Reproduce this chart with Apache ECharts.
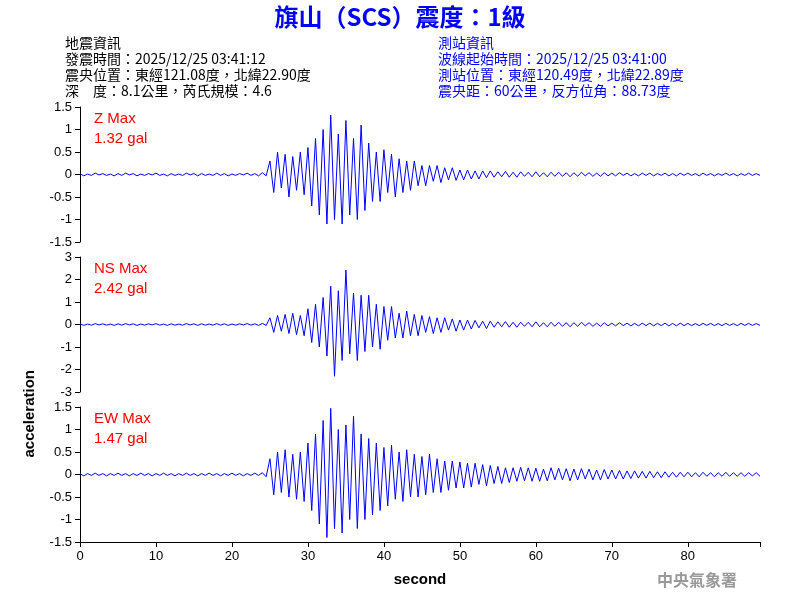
<!DOCTYPE html>
<html><head><meta charset="utf-8">
<script src="https://cdn.jsdelivr.net/npm/echarts@6/dist/echarts.min.js"></script>
<style>html,body{margin:0;padding:0;background:#fff}#c{width:800px;height:600px}</style>
</head><body><div id="c"></div>
<script>
const step = 0.5;
const zTicks = [-1.5,-1,-0.5,0,0.5,1,1.5];
const nsTicks = [-3,-2,-1,0,1,2,3];
const zVals = [
0.02,-0.03,0.01,-0.02,0.03,-0.01,0.02,-0.02,0.01,-0.03,
0.02,-0.02,0.03,-0.01,0.02,-0.03,0.01,-0.02,0.02,-0.01,
0.03,-0.02,0.01,-0.03,0.02,-0.02,0.01,-0.02,0.03,-0.01,
0.02,-0.03,0.02,-0.02,0.01,-0.02,0.03,-0.02,0.02,-0.03,
0.01,-0.02,0.02,-0.01,0.03,-0.02,0.02,-0.03,0.04,-0.03,
0.3,-0.4,0.5,-0.3,0.45,-0.5,0.4,-0.35,0.5,-0.45,
0.6,-0.7,0.8,-0.9,1.0,-1.1,1.32,-1.0,0.9,-1.1,1.2,-0.9,0.8,-1.0,1.1,-0.8,
0.7,-0.6,0.5,-0.6,0.55,-0.4,0.45,-0.5,0.35,-0.4,0.3,-0.35,0.3,-0.25,
0.2,-0.25,0.2,-0.15,0.2,-0.18,0.15,-0.12,0.15,-0.13,0.1,-0.12,0.1,-0.1,0.08,-0.1,0.08,-0.07,0.08,-0.06,
0.06,-0.05,0.07,-0.06,0.05,-0.06,0.06,-0.04,0.05,-0.05,0.06,-0.05,0.04,-0.05,0.05,
-0.04,0.05,-0.04,0.04,-0.05,0.04,-0.04,0.05,-0.03,0.04,-0.04,0.03,-0.04,0.04,-0.03,
0.03,-0.03,0.04,-0.02,0.03,-0.03,0.02,-0.03,0.03,-0.02,0.03,-0.03,0.02,-0.02,0.03,-0.03,0.02,-0.03,0.03,-0.02,
0.03,-0.02,0.02,-0.03,0.03,-0.02,0.02,-0.03,0.02,-0.02,0.03,-0.02,0.02,-0.03,0.02,-0.02,0.03,-0.02,0.02,-0.02
];
const nsVals = [
0.03,-0.04,0.02,-0.03,0.04,-0.02,0.03,-0.03,0.02,-0.04,
0.03,-0.03,0.04,-0.02,0.03,-0.04,0.02,-0.03,0.03,-0.02,
0.04,-0.03,0.02,-0.04,0.03,-0.03,0.02,-0.03,0.04,-0.02,
0.03,-0.04,0.03,-0.03,0.02,-0.03,0.04,-0.03,0.03,-0.04,
0.02,-0.03,0.03,-0.02,0.04,-0.03,0.03,-0.04,0.05,-0.04,
0.3,-0.35,0.4,-0.3,0.45,-0.4,0.5,-0.45,0.4,-0.5,
0.7,-0.8,0.9,-1.0,1.2,-1.4,1.7,-2.3,1.5,-1.6,2.42,-1.3,1.4,-1.6,1.3,-1.2,
1.3,-1.0,0.9,-1.1,0.8,-0.7,0.8,-0.6,0.5,-0.6,0.6,-0.5,0.45,-0.5,
0.4,-0.35,0.35,-0.4,0.3,-0.35,0.3,-0.25,0.25,-0.3,0.2,-0.25,0.2,-0.2,0.18,-0.15,0.15,-0.18,0.15,-0.12,
0.12,-0.1,0.13,-0.12,0.1,-0.12,0.1,-0.08,0.1,-0.1,0.12,-0.1,0.08,-0.1,0.1,
-0.08,0.1,-0.08,0.08,-0.1,0.08,-0.08,0.1,-0.06,0.08,-0.08,0.06,-0.08,0.08,-0.06,
0.06,-0.06,0.08,-0.05,0.06,-0.06,0.05,-0.06,0.06,-0.05,0.06,-0.06,0.05,-0.05,0.06,-0.06,0.05,-0.06,0.06,-0.05,
0.05,-0.05,0.04,-0.05,0.05,-0.04,0.05,-0.05,0.04,-0.05,0.05,-0.04,0.04,-0.05,0.05,-0.04,0.05,-0.04,0.04,-0.04
];
const ewVals = [
0.02,-0.03,0.02,-0.02,0.03,-0.02,0.02,-0.03,0.02,-0.02,
0.03,-0.02,0.02,-0.03,0.02,-0.02,0.03,-0.02,0.02,-0.03,
0.02,-0.02,0.03,-0.02,0.02,-0.03,0.02,-0.02,0.03,-0.02,
0.02,-0.03,0.02,-0.02,0.03,-0.02,0.02,-0.03,0.02,-0.02,
0.03,-0.02,0.02,-0.03,0.02,-0.02,0.03,-0.02,0.04,-0.05,
0.35,-0.45,0.5,-0.4,0.55,-0.5,0.45,-0.55,0.5,-0.6,
0.7,-0.8,0.9,-1.1,1.2,-1.4,1.47,-1.2,1.0,-1.3,1.1,-1.0,1.3,-1.2,0.9,-1.0,
0.8,-0.9,0.7,-0.8,0.6,-0.7,0.65,-0.55,0.5,-0.6,0.55,-0.5,0.45,-0.5,
0.4,-0.45,0.45,-0.4,0.35,-0.4,0.3,-0.35,0.3,-0.3,0.28,-0.3,0.25,-0.28,0.25,-0.22,0.22,-0.25,0.2,-0.2,
0.18,-0.2,0.15,-0.18,0.15,-0.15,0.16,-0.14,0.15,-0.15,0.14,-0.15,0.12,-0.14,0.15,
-0.12,0.14,-0.12,0.13,-0.14,0.12,-0.12,0.13,-0.1,0.12,-0.12,0.1,-0.12,0.11,-0.1,
0.1,-0.1,0.09,-0.1,0.08,-0.09,0.08,-0.08,0.07,-0.08,0.07,-0.07,0.06,-0.07,0.06,-0.06,0.05,-0.06,0.05,-0.05,
0.05,-0.05,0.04,-0.05,0.05,-0.04,0.04,-0.05,0.04,-0.04,0.05,-0.04,0.04,-0.04,0.04,-0.04,0.04,-0.03,0.04,-0.04
];
const maxLabels = ['Z Max\n1.32 gal','NS Max\n2.42 gal','EW Max\n1.47 gal'];
const infoLeft = ['地震資訊','發震時間：2025/12/25 03:41:12','震央位置：東經121.08度，北緯22.90度','深　度：8.1公里，芮氏規模：4.6'];
const infoRight = ['測站資訊','波線起始時間：2025/12/25 03:41:00','測站位置：東經120.49度，北緯22.89度','震央距：60公里，反方位角：88.73度'];

const toXY = a => a.map((v,i)=>[i*step, v]);
const tops = [107,257,407];
const grids = tops.map(t=>({left:80,width:680,top:t,height:135}));
const xAxes = tops.map((t,i)=>({type:'value',gridIndex:i,min:0,max:89.5,interval:10,
  show:i===2,axisLine:{onZero:false,lineStyle:{color:'#000'}},axisTick:{lineStyle:{color:'#000'}},
  axisLabel:{color:'#000',fontSize:13,formatter:v=>v>85?'':v},splitLine:{show:false},
  name:i===2?'second':'',nameLocation:'middle',nameGap:30,nameTextStyle:{color:'#000',fontSize:15,fontWeight:'bold'}}));
const yAxes = [zTicks,nsTicks,zTicks].map((tk,i)=>({type:'value',gridIndex:i,min:tk[0],max:tk[tk.length-1],interval:tk[1]-tk[0],
  axisLine:{show:true,lineStyle:{color:'#000'}},axisTick:{show:true,lineStyle:{color:'#000'}},
  axisLabel:{color:'#000',fontSize:13},splitLine:{show:false}}));
const series = [zVals,nsVals,ewVals].map((a,i)=>({type:'line',xAxisIndex:i,yAxisIndex:i,data:toXY(a),
  showSymbol:false,lineStyle:{color:'#0000ff',width:1},animation:false}));
const graphic = [
 {type:'text',left:'center',top:5,style:{text:'旗山（SCS）震度：1級',fill:'#0000ff',font:'bold 24px "Noto Sans CJK TC", sans-serif'}},
 ...infoLeft.map((t,i)=>({type:'text',left:65,top:36+i*16,style:{text:t,fill:'#000',font:'14px "Noto Sans CJK TC", sans-serif'}})),
 ...infoRight.map((t,i)=>({type:'text',left:438,top:36+i*16,style:{text:t,fill:'#0000ff',font:'14px "Noto Sans CJK TC", sans-serif'}})),
 ...maxLabels.map((t,i)=>({type:'text',left:94,top:tops[i]+2,style:{text:t,fill:'#ff0000',font:'15px "Liberation Sans", Arial, sans-serif',lineHeight:20}})),
 {type:'text',left:22,top:370,rotation:Math.PI/2,style:{text:'acceleration',fill:'#000',font:'bold 15px "Liberation Sans", Arial, sans-serif'}},
 {type:'text',left:657,top:572,style:{text:'中央氣象署',fill:'#999',font:'bold 16px "Noto Sans CJK TC", serif'}}
];
const chart = echarts.init(document.getElementById('c'));
chart.setOption({animation:false,grid:grids,xAxis:xAxes,yAxis:yAxes,series,graphic});
</script></body></html>
